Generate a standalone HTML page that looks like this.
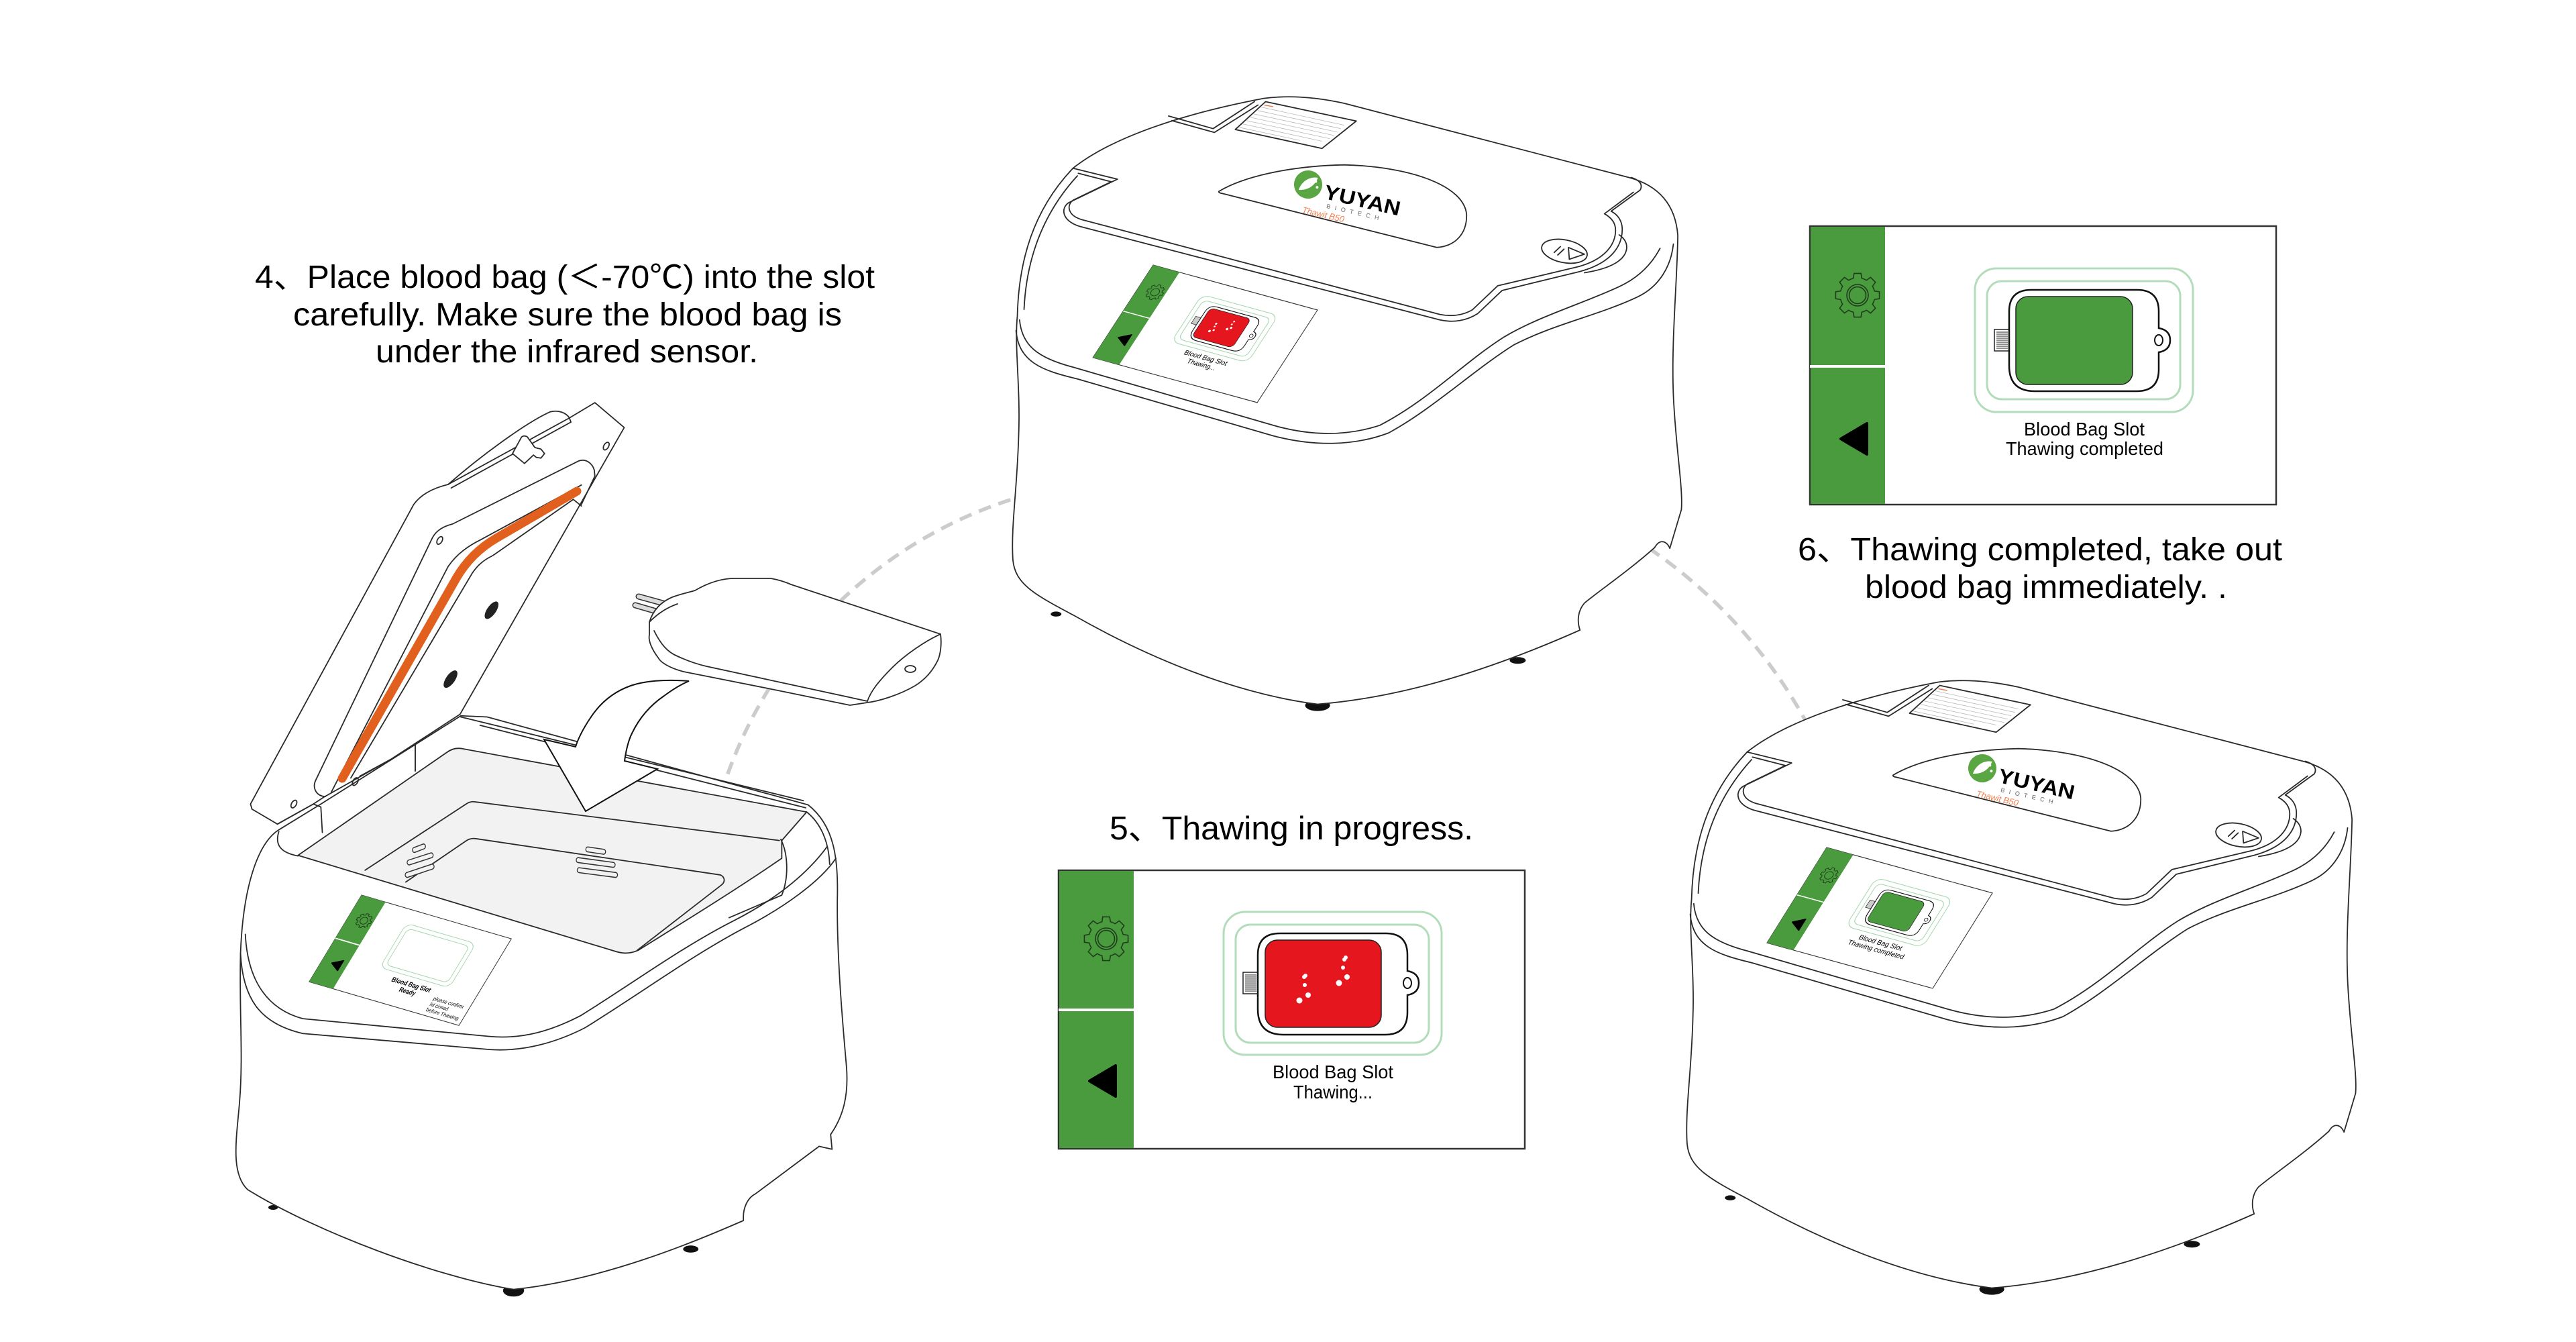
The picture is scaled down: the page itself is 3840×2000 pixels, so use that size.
<!DOCTYPE html>
<html><head><meta charset="utf-8"><style>
html,body{margin:0;padding:0;background:#fff;width:3840px;height:2000px;overflow:hidden}
svg{display:block}
.ln{fill:none;stroke:#2a2a2a;stroke-width:1.8px;vector-effect:non-scaling-stroke;stroke-linejoin:round;stroke-linecap:round}
.wf{fill:#fff;stroke:#2a2a2a;stroke-width:1.8px;vector-effect:non-scaling-stroke;stroke-linejoin:round}
.lg{fill:none;stroke:#b8b8b8;stroke-width:0.8px;vector-effect:non-scaling-stroke}
.t{font-family:"Liberation Sans","Noto Sans CJK SC",sans-serif;fill:#000}
.dash{fill:none;stroke:#cccccc;stroke-width:5.5;stroke-dasharray:19 12}
</style></head><body>
<svg xmlns="http://www.w3.org/2000/svg" width="3840" height="2000" viewBox="0 0 3840 2000">

<!-- dashed connector arcs -->
<path class="dash" d="M1075,1183 A666 666 0 0 1 1551,732"/>
<path class="dash" d="M2432,800 A748 748 0 0 1 2708,1106"/>

<!-- ============ CENTER DEVICE ============ -->
<g transform="translate(1500,100) scale(0.663,0.628)">
  <ellipse cx="700" cy="1515" rx="28" ry="13" fill="#111"/>
  <ellipse cx="1150" cy="1408" rx="18" ry="8" fill="#111"/>
  <ellipse cx="112" cy="1298" rx="12" ry="6" fill="#111"/>
  <path class="wf" d="M25,590 C28,460 60,340 150,240 C240,165 400,110 580,74 C640,66 700,72 760,86 L1400,262 C1470,282 1505,330 1510,400 C1508,520 1495,650 1500,780 C1505,900 1522,1000 1518,1050 L1492,1142 C1485,1125 1470,1118 1458,1140 C1400,1195 1330,1245 1300,1272 C1285,1290 1283,1315 1290,1336 C1100,1425 900,1495 700,1512 C500,1485 300,1390 150,1300 C60,1250 20,1225 15,1170 C10,1090 25,1000 28,870 C32,760 18,660 25,590 Z"/>
  <path class="ln" d="M40,575 C45,460 80,350 160,258"/>
  <path class="ln" d="M30,600 C35,660 70,690 150,712 L600,850 C680,874 760,878 840,850 C950,790 1030,700 1120,640 C1200,590 1300,560 1380,520 C1420,500 1450,470 1470,430"/>
  <path class="ln" d="M22,625 C28,700 80,720 160,740 L600,875 C690,900 780,900 860,868 C960,810 1050,720 1140,660 C1230,610 1330,590 1420,545 C1470,520 1495,470 1500,420"/>
  <path class="ln" d="M150,240 L250,266 L140,322 C122,335 125,365 165,378 L975,600 C1005,607 1035,602 1060,585 L1115,530 L1290,485 C1360,465 1385,425 1385,385 C1385,365 1375,350 1360,342 L1425,292 C1432,280 1425,268 1405,262"/>
  <path class="ln" d="M162,252 L236,272 L150,316 C135,328 138,352 170,362 L975,587 C1000,592 1025,590 1048,576 L1105,519 L1285,474 C1345,457 1370,422 1370,387 C1370,372 1362,358 1345,348 L1410,297"/>
  <path class="ln" d="M1300,488 C1360,478 1392,458 1395,430 C1396,415 1388,405 1378,398"/>
  <path class="ln" d="M365,116 L465,146 L558,82"/>
  <path class="ln" d="M372,127 L468,155 L566,90"/>
  <path class="wf" d="M515,148 L583,82 L787,128 L710,193 Z"/>
  <path class="lg" d="M573,95 L760,138 M565,103 L752,146 M556,111 L744,154 M548,119 L736,162 M540,127 L728,170 M532,135 L710,176 M524,143 L660,174"/>
  <path d="M580,90 L600,94" stroke="#f08050" stroke-width="1.5" vector-effect="non-scaling-stroke"/>
  <path class="ln" d="M478,295 C530,262 630,235 760,232 C910,236 1030,282 1035,350 C1036,395 1010,425 968,428 L486,300 C480,299 477,297 478,295 Z"/>
  <ellipse class="ln" cx="1255" cy="437" rx="52" ry="27" transform="rotate(12 1255 437)"/>
  <path class="ln" d="M1232,440 L1246,426 M1240,446 L1254,432"/>
  <path class="ln" d="M1264,428 L1300,444 L1266,456 Z"/>
</g>
<!-- center device screen -->
<g transform="matrix(0.35,0.0957,-0.215,0.330,1719,395)">
  <rect x="0" y="0" width="700" height="418" fill="#fff" stroke="#333" stroke-width="3"/>
  <rect x="0" y="0" width="112" height="418" fill="#4A9B3E"/>
  <line x1="0" y1="208" x2="112" y2="208" stroke="#fff" stroke-width="4"/>
  <g transform="translate(71,102)" fill="none" stroke="#1f3d1c" stroke-width="2.5"><path d="M25.23,-6.29 L32.59,-5.16 L32.59,5.16 L25.23,6.29 A26 26 0 0 1 22.29,13.39 L26.70,19.40 L19.40,26.70 L13.39,22.29 A26 26 0 0 1 6.29,25.23 L5.16,32.59 L-5.16,32.59 L-6.29,25.23 A26 26 0 0 1 -13.39,22.29 L-19.40,26.70 L-26.70,19.40 L-22.29,13.39 A26 26 0 0 1 -25.23,6.29 L-32.59,5.16 L-32.59,-5.16 L-25.23,-6.29 A26 26 0 0 1 -22.29,-13.39 L-26.70,-19.40 L-19.40,-26.70 L-13.39,-22.29 A26 26 0 0 1 -6.29,-25.23 L-5.16,-32.59 L5.16,-32.59 L6.29,-25.23 A26 26 0 0 1 13.39,-22.29 L19.40,-26.70 L26.70,-19.40 L22.29,-13.39 A26 26 0 0 1 25.23,-6.29 Z"/><circle r="16"/></g>
  <path d="M45,314 L86,290 L86,338 Z" fill="#000" stroke="#000" stroke-width="5" stroke-linejoin="round"/>
  <rect x="246" y="62" width="325" height="213" rx="32" fill="none" stroke="#a9d8b2" stroke-width="3"/>
  <rect x="264" y="81" width="288" height="176" rx="22" fill="none" stroke="#a9d8b2" stroke-width="3"/>
  <rect x="275" y="152" width="22" height="32" fill="#ccc" stroke="#222" stroke-width="2"/>
  <path d="M330,94 L488,94 Q520,94 520,126 L520,150 Q537,153 537,168 Q537,183 520,186 L520,212 Q520,245 487,245 L335,245 Q297,245 297,207 L297,126 Q297,94 330,94 Z" fill="#fff" stroke="#111" stroke-width="3"/>
  <circle cx="521" cy="168" r="7" fill="#fff" stroke="#111" stroke-width="2"/>
  <rect x="308" y="104" width="173" height="130" rx="18" fill="#E5161E" stroke="#222" stroke-width="2"/>
  <g fill="#fff"><circle cx="366" cy="159" r="4"/><circle cx="367" cy="171" r="3.5"/><circle cx="372" cy="186" r="4"/><circle cx="359" cy="194" r="5"/><circle cx="426" cy="132" r="3.5"/><circle cx="424" cy="145" r="3.5"/><circle cx="430" cy="159" r="4.5"/><circle cx="418" cy="168" r="5"/></g>
  <text class="t" x="319" y="310" font-size="28" textLength="180" lengthAdjust="spacingAndGlyphs">Blood Bag Slot</text>
  <text class="t" x="350" y="340" font-size="28" textLength="118" lengthAdjust="spacingAndGlyphs">Thawing...</text>
</g>
<!-- center logo -->
<g transform="rotate(13 1950 275)">
  <circle cx="1950" cy="275" r="21" fill="#5aa642"/>
  <path d="M1938,286 C1940,270 1952,262 1962,262 C1960,276 1950,284 1938,286 Z" fill="#fff"/>
  <circle cx="1960" cy="268" r="2" fill="#fff"/><circle cx="1964" cy="276" r="2" fill="#fff"/>
  <text class="t" x="1976" y="290" font-size="30" font-weight="bold" textLength="116" lengthAdjust="spacingAndGlyphs">YUYAN</text>
  <text class="t" x="1984" y="303" font-size="9" textLength="80" lengthAdjust="spacing" style="fill:#666">B I O T E C H</text>
  <text class="t" x="1950" y="318" font-size="13" font-style="italic" textLength="64" lengthAdjust="spacingAndGlyphs" style="fill:#F08050">Thawit B50</text>
</g>

<!-- ============ RIGHT DEVICE ============ -->
<g transform="translate(1005,870)">
<g transform="translate(1500,100) scale(0.663,0.628)">
  <ellipse cx="700" cy="1515" rx="28" ry="13" fill="#111"/>
  <ellipse cx="1150" cy="1408" rx="18" ry="8" fill="#111"/>
  <ellipse cx="112" cy="1298" rx="12" ry="6" fill="#111"/>
  <path class="wf" d="M25,590 C28,460 60,340 150,240 C240,165 400,110 580,74 C640,66 700,72 760,86 L1400,262 C1470,282 1505,330 1510,400 C1508,520 1495,650 1500,780 C1505,900 1522,1000 1518,1050 L1492,1142 C1485,1125 1470,1118 1458,1140 C1400,1195 1330,1245 1300,1272 C1285,1290 1283,1315 1290,1336 C1100,1425 900,1495 700,1512 C500,1485 300,1390 150,1300 C60,1250 20,1225 15,1170 C10,1090 25,1000 28,870 C32,760 18,660 25,590 Z"/>
  <path class="ln" d="M40,575 C45,460 80,350 160,258"/>
  <path class="ln" d="M30,600 C35,660 70,690 150,712 L600,850 C680,874 760,878 840,850 C950,790 1030,700 1120,640 C1200,590 1300,560 1380,520 C1420,500 1450,470 1470,430"/>
  <path class="ln" d="M22,625 C28,700 80,720 160,740 L600,875 C690,900 780,900 860,868 C960,810 1050,720 1140,660 C1230,610 1330,590 1420,545 C1470,520 1495,470 1500,420"/>
  <path class="ln" d="M150,240 L250,266 L140,322 C122,335 125,365 165,378 L975,600 C1005,607 1035,602 1060,585 L1115,530 L1290,485 C1360,465 1385,425 1385,385 C1385,365 1375,350 1360,342 L1425,292 C1432,280 1425,268 1405,262"/>
  <path class="ln" d="M162,252 L236,272 L150,316 C135,328 138,352 170,362 L975,587 C1000,592 1025,590 1048,576 L1105,519 L1285,474 C1345,457 1370,422 1370,387 C1370,372 1362,358 1345,348 L1410,297"/>
  <path class="ln" d="M1300,488 C1360,478 1392,458 1395,430 C1396,415 1388,405 1378,398"/>
  <path class="ln" d="M365,116 L465,146 L558,82"/>
  <path class="ln" d="M372,127 L468,155 L566,90"/>
  <path class="wf" d="M515,148 L583,82 L787,128 L710,193 Z"/>
  <path class="lg" d="M573,95 L760,138 M565,103 L752,146 M556,111 L744,154 M548,119 L736,162 M540,127 L728,170 M532,135 L710,176 M524,143 L660,174"/>
  <path d="M580,90 L600,94" stroke="#f08050" stroke-width="1.5" vector-effect="non-scaling-stroke"/>
  <path class="ln" d="M478,295 C530,262 630,235 760,232 C910,236 1030,282 1035,350 C1036,395 1010,425 968,428 L486,300 C480,299 477,297 478,295 Z"/>
  <ellipse class="ln" cx="1255" cy="437" rx="52" ry="27" transform="rotate(12 1255 437)"/>
  <path class="ln" d="M1232,440 L1246,426 M1240,446 L1254,432"/>
  <path class="ln" d="M1264,428 L1300,444 L1266,456 Z"/>
</g>
<g transform="rotate(13 1950 275)">
  <circle cx="1950" cy="275" r="21" fill="#5aa642"/>
  <path d="M1938,286 C1940,270 1952,262 1962,262 C1960,276 1950,284 1938,286 Z" fill="#fff"/>
  <circle cx="1960" cy="268" r="2" fill="#fff"/><circle cx="1964" cy="276" r="2" fill="#fff"/>
  <text class="t" x="1976" y="290" font-size="30" font-weight="bold" textLength="116" lengthAdjust="spacingAndGlyphs">YUYAN</text>
  <text class="t" x="1984" y="303" font-size="9" textLength="80" lengthAdjust="spacing" style="fill:#666">B I O T E C H</text>
  <text class="t" x="1950" y="318" font-size="13" font-style="italic" textLength="64" lengthAdjust="spacingAndGlyphs" style="fill:#F08050">Thawit B50</text>
</g>
</g>
<!-- right device screen -->
<g transform="matrix(0.353,0.097,-0.213,0.340,2723,1263)">
  <rect x="0" y="0" width="700" height="418" fill="#fff" stroke="#333" stroke-width="3"/>
  <rect x="0" y="0" width="112" height="418" fill="#4A9B3E"/>
  <line x1="0" y1="208" x2="112" y2="208" stroke="#fff" stroke-width="4"/>
  <g transform="translate(71,102)" fill="none" stroke="#1f3d1c" stroke-width="2.5"><path d="M25.23,-6.29 L32.59,-5.16 L32.59,5.16 L25.23,6.29 A26 26 0 0 1 22.29,13.39 L26.70,19.40 L19.40,26.70 L13.39,22.29 A26 26 0 0 1 6.29,25.23 L5.16,32.59 L-5.16,32.59 L-6.29,25.23 A26 26 0 0 1 -13.39,22.29 L-19.40,26.70 L-26.70,19.40 L-22.29,13.39 A26 26 0 0 1 -25.23,6.29 L-32.59,5.16 L-32.59,-5.16 L-25.23,-6.29 A26 26 0 0 1 -22.29,-13.39 L-26.70,-19.40 L-19.40,-26.70 L-13.39,-22.29 A26 26 0 0 1 -6.29,-25.23 L-5.16,-32.59 L5.16,-32.59 L6.29,-25.23 A26 26 0 0 1 13.39,-22.29 L19.40,-26.70 L26.70,-19.40 L22.29,-13.39 A26 26 0 0 1 25.23,-6.29 Z"/><circle r="16"/></g>
  <path d="M45,314 L86,290 L86,338 Z" fill="#000" stroke="#000" stroke-width="5" stroke-linejoin="round"/>
  <rect x="246" y="62" width="325" height="213" rx="32" fill="none" stroke="#a9d8b2" stroke-width="3"/>
  <rect x="264" y="81" width="288" height="176" rx="22" fill="none" stroke="#a9d8b2" stroke-width="3"/>
  <rect x="275" y="152" width="22" height="32" fill="#ccc" stroke="#222" stroke-width="2"/>
  <path d="M330,94 L488,94 Q520,94 520,126 L520,150 Q537,153 537,168 Q537,183 520,186 L520,212 Q520,245 487,245 L335,245 Q297,245 297,207 L297,126 Q297,94 330,94 Z" fill="#fff" stroke="#111" stroke-width="3"/>
  <circle cx="521" cy="168" r="7" fill="#fff" stroke="#111" stroke-width="2"/>
  <rect x="308" y="104" width="173" height="130" rx="18" fill="#4A9B3E" stroke="#222" stroke-width="2"/>
  <text class="t" x="319" y="310" font-size="28" textLength="180" lengthAdjust="spacingAndGlyphs">Blood Bag Slot</text>
  <text class="t" x="291" y="340" font-size="28" textLength="235" lengthAdjust="spacingAndGlyphs">Thawing completed</text>
</g>

<!-- ============ LEFT DEVICE ============ -->
<g transform="translate(330,580) scale(0.714,0.885)">
  <ellipse cx="610" cy="1518" rx="22" ry="10" fill="#111"/>
  <ellipse cx="980" cy="1448" rx="16" ry="6" fill="#111"/>
  <ellipse cx="108" cy="1378" rx="10" ry="4" fill="#111"/>
  <path class="wf" d="M120,742 C75,765 45,840 40,950 C37,1050 46,1120 38,1200 C32,1260 18,1320 55,1348 C200,1420 450,1495 610,1516 C800,1500 990,1435 1090,1400 C1088,1380 1098,1362 1115,1355 L1248,1275 L1275,1280 L1272,1255 C1298,1225 1310,1190 1305,1140 C1295,1050 1285,950 1286,860 C1288,790 1280,735 1225,700 L555,552 L500,550 L205,700 Z"/>
  <path class="ln" d="M500,552 L1215,693"/>
  <path class="ln" d="M540,566 L1220,705"/>
  <path d="M160,785 L470,612 C480,606 490,604 500,605 L1222,712 L1170,760 L1170,790 C1080,840 960,900 870,945 C850,952 835,950 820,946 L160,785 Z" fill="#f2f2f2" stroke="#2a2a2a" stroke-width="1.8" vector-effect="non-scaling-stroke" stroke-linejoin="round"/>
  <path class="ln" d="M300,810 L512,698 C518,695 524,694 530,695 L1165,760"/>
  <path class="ln" d="M385,830 L512,760 C518,757 525,756 532,757 L1042,818 C1052,822 1052,830 1044,835 L868,945"/>
  <path d="M403,776 L422,770 M392,797 L438,785 M388,818 L440,804 M765,775 L798,779 M745,793 L818,801 M747,810 L823,818" stroke="#333" stroke-width="10" stroke-linecap="round" fill="none"/>
  <path d="M403,776 L422,770 M392,797 L438,785 M388,818 L440,804 M765,775 L798,779 M745,793 L818,801 M747,810 L823,818" stroke="#f2f2f2" stroke-width="6.5" stroke-linecap="round" fill="none"/>
  <path class="ln" d="M1168,758 C1182,780 1186,820 1170,852 L1060,890"/>
  <path class="ln" d="M1222,712 C1250,730 1268,760 1270,800"/>
  <path class="ln" d="M120,745 C112,765 120,780 160,786"/>
  <path class="ln" d="M40,950 C45,1035 90,1070 170,1085 L560,1112 C630,1116 700,1100 760,1075 C880,1015 980,955 1090,908 C1170,875 1250,830 1283,790"/>
  <path class="ln" d="M50,918 C55,1000 100,1045 170,1060 L560,1090 C630,1095 690,1080 750,1055 C860,1000 960,940 1070,895 C1150,862 1220,820 1265,770"/>
</g>
<!-- lid -->
<g transform="translate(360,580) scale(0.4464)">
  <path class="wf" d="M30,1385 L575,385 C600,350 640,330 690,318 C800,222 950,112 1030,76 C1060,68 1085,80 1095,96 L1180,45 L1278,128 L730,1085 L500,1235 L275,1362 L240,1385 L120,1452 L35,1402 Z"/>
  <path class="ln" d="M690,318 L1095,96"/>
  <path class="ln" d="M700,330 L1100,110"/>
  <path class="ln" d="M1095,96 L1100,110"/>
  <path class="wf" d="M905,215 L935,160 C940,155 950,155 955,160 L980,195 L1000,200 L1012,215 L1000,230 L985,228 L975,220 L945,248 Z"/>
  <path class="ln" d="M280,1360 C248,1358 236,1330 248,1305 L638,495 C652,470 675,458 705,450 L1125,240 C1150,230 1172,248 1178,270 L1180,290 L1135,385"/>
  <path class="ln" d="M300,1345 L690,592 C720,548 760,522 800,502 L1135,320"/>
  <path class="ln" d="M365,1298 L770,615 C790,585 810,570 840,555 L1108,368 L1135,390"/>
  <path class="ln" d="M395,1292 L500,1235"/>
  <path class="ln" d="M120,1452 L240,1385 L265,1395 L270,1480"/>
  <path class="ln" d="M580,1185 L580,1275"/>
  <ellipse class="ln" cx="662" cy="505" rx="8" ry="14" transform="rotate(30 662 505)"/>
  <ellipse class="ln" cx="1218" cy="190" rx="8" ry="14" transform="rotate(30 1218 190)"/>
  <ellipse class="ln" cx="175" cy="1385" rx="8" ry="14" transform="rotate(30 175 1385)"/>
  <ellipse class="ln" cx="380" cy="1310" rx="8" ry="14" transform="rotate(30 380 1310)"/>
  <ellipse cx="835" cy="738" rx="34" ry="15" transform="rotate(-55 835 738)" fill="#222"/>
  <ellipse cx="698" cy="968" rx="34" ry="15" transform="rotate(-55 698 968)" fill="#222"/>
</g>
<!-- orange seal strip -->
<path d="M510,1160 L680,862 Q702,824 740,802 L860,732" fill="none" stroke="#E2601E" stroke-width="13" stroke-linecap="round" stroke-linejoin="round"/>
<path d="M619,1109 L619,1149" class="ln"/>

<!-- left device screen -->
<g transform="matrix(0.319,0.093,-0.187,0.309,539,1334)">
  <rect x="0" y="0" width="700" height="418" fill="#fff" stroke="#333" stroke-width="3"/>
  <rect x="0" y="0" width="112" height="418" fill="#4A9B3E"/>
  <line x1="0" y1="208" x2="112" y2="208" stroke="#fff" stroke-width="5"/>
  <g transform="translate(71,102)" fill="none" stroke="#1f3d1c" stroke-width="3"><path d="M25.23,-6.29 L32.59,-5.16 L32.59,5.16 L25.23,6.29 A26 26 0 0 1 22.29,13.39 L26.70,19.40 L19.40,26.70 L13.39,22.29 A26 26 0 0 1 6.29,25.23 L5.16,32.59 L-5.16,32.59 L-6.29,25.23 A26 26 0 0 1 -13.39,22.29 L-19.40,26.70 L-26.70,19.40 L-22.29,13.39 A26 26 0 0 1 -25.23,6.29 L-32.59,5.16 L-32.59,-5.16 L-25.23,-6.29 A26 26 0 0 1 -22.29,-13.39 L-26.70,-19.40 L-19.40,-26.70 L-13.39,-22.29 A26 26 0 0 1 -6.29,-25.23 L-5.16,-32.59 L5.16,-32.59 L6.29,-25.23 A26 26 0 0 1 13.39,-22.29 L19.40,-26.70 L26.70,-19.40 L22.29,-13.39 A26 26 0 0 1 25.23,-6.29 Z"/><circle r="16"/></g>
  <path d="M45,314 L86,290 L86,338 Z" fill="#000" stroke="#000" stroke-width="5" stroke-linejoin="round"/>
  <rect x="246" y="62" width="325" height="213" rx="32" fill="none" stroke="#a9d8b2" stroke-width="3"/>
  <rect x="264" y="81" width="288" height="176" rx="22" fill="none" stroke="#a9d8b2" stroke-width="3"/>
  <text class="t" x="323" y="318" font-size="30" font-weight="bold" textLength="180" lengthAdjust="spacingAndGlyphs">Blood Bag Slot</text>
  <text class="t" x="377" y="350" font-size="30" font-weight="bold" textLength="74" lengthAdjust="spacingAndGlyphs">Ready</text>
  <text class="t" x="534" y="345" font-size="24" textLength="140" lengthAdjust="spacingAndGlyphs">please confirm</text>
  <text class="t" x="534" y="372" font-size="24" textLength="84" lengthAdjust="spacingAndGlyphs">lid closed</text>
  <text class="t" x="532" y="399" font-size="24" textLength="150" lengthAdjust="spacingAndGlyphs">before Thawing</text>
</g>

<!-- curved arrow -->
<path d="M1027,1015 C990,1012 960,1015 940,1022 C912,1032 893,1050 880,1070 C870,1085 862,1100 858,1113 L811,1102 L873,1209 L980,1146 L931,1134 C933,1120 936,1105 942,1093 C952,1072 968,1052 990,1037 C1002,1028 1015,1020 1027,1015 Z" fill="#fff" stroke="#111" stroke-width="2" stroke-linejoin="miter"/>

<!-- blood bag -->
<path d="M952,889 L992,900 M947,902 L985,913" stroke="#333" stroke-width="9" stroke-linecap="round"/>
<path d="M952,889 L992,900 M947,902 L985,913" stroke="#dcdcdc" stroke-width="6" stroke-linecap="round"/>
<path class="wf" d="M968,927 C975,905 990,895 1002,890 C1015,885 1030,882 1036,880 C1060,866 1080,862 1095,862 L1149,862 C1160,864 1170,867 1179,871 L1402,945 C1404,960 1402,975 1398,984 C1390,1000 1380,1012 1364,1022 C1340,1036 1310,1045 1293,1047 L1267,1051 L1145,1026 L1019,1001 C1000,996 985,988 981,980 C972,968 966,955 968,946 Z"/>
<path class="ln" d="M975,940 C985,960 995,972 1010,978 C1025,985 1040,990 1053,993 L1293,1045"/>
<path class="ln" d="M1402,945 C1380,955 1350,975 1330,995 C1310,1015 1298,1030 1293,1045"/>
<path class="ln" d="M968,927 C980,915 995,905 1010,900"/>
<ellipse class="ln" cx="1357" cy="997" rx="8" ry="5"/>

<!-- ============ BIG SCREEN 5 ============ -->
<g transform="translate(1578,1297)">
  <rect x="0" y="0" width="695" height="415" fill="#fff" stroke="#333" stroke-width="2.5"/>
  <rect x="1" y="1" width="111" height="413" fill="#4A9B3E"/>
  <line x1="0" y1="208" x2="112" y2="208" stroke="#fff" stroke-width="4"/>
  <g transform="translate(71,102)" fill="none" stroke="#1f3d1c" stroke-width="1.6"><path d="M25.23,-6.29 L32.59,-5.16 L32.59,5.16 L25.23,6.29 A26 26 0 0 1 22.29,13.39 L26.70,19.40 L19.40,26.70 L13.39,22.29 A26 26 0 0 1 6.29,25.23 L5.16,32.59 L-5.16,32.59 L-6.29,25.23 A26 26 0 0 1 -13.39,22.29 L-19.40,26.70 L-26.70,19.40 L-22.29,13.39 A26 26 0 0 1 -25.23,6.29 L-32.59,5.16 L-32.59,-5.16 L-25.23,-6.29 A26 26 0 0 1 -22.29,-13.39 L-26.70,-19.40 L-19.40,-26.70 L-13.39,-22.29 A26 26 0 0 1 -6.29,-25.23 L-5.16,-32.59 L5.16,-32.59 L6.29,-25.23 A26 26 0 0 1 13.39,-22.29 L19.40,-26.70 L26.70,-19.40 L22.29,-13.39 A26 26 0 0 1 25.23,-6.29 Z"/><circle r="16"/><circle r="12.5"/></g>
  <path d="M46,314 L85,291 L85,337 Z" fill="#000" stroke="#000" stroke-width="4" stroke-linejoin="round"/>
  <rect x="246" y="62" width="325" height="213" rx="32" fill="none" stroke="#b3dcbb" stroke-width="3"/>
  <rect x="264" y="81" width="288" height="176" rx="22" fill="none" stroke="#b3dcbb" stroke-width="3"/>
  <rect x="275" y="152" width="22" height="32" fill="#fff" stroke="#222" stroke-width="1.5"/>
  <path d="M278,156h17M278,159h17M278,162h17M278,165h17M278,168h17M278,171h17M278,174h17M278,177h17M278,180h17" stroke="#222" stroke-width="1"/>
  <path d="M330,94 L488,94 Q520,94 520,126 L520,150 Q537,153 537,168 Q537,183 520,186 L520,212 Q520,245 487,245 L335,245 Q297,245 297,207 L297,126 Q297,94 330,94 Z" fill="#fff" stroke="#111" stroke-width="2.5"/>
  <ellipse cx="520" cy="168" rx="6" ry="8" fill="#fff" stroke="#111" stroke-width="2"/>
  <rect x="308" y="104" width="173" height="130" rx="18" fill="#E5161E" stroke="#222" stroke-width="1.5"/>
  <g fill="#fff"><circle cx="368" cy="157" r="3"/><circle cx="366" cy="159" r="3"/><circle cx="367" cy="171" r="3"/><circle cx="372" cy="186" r="4"/><circle cx="359" cy="194" r="4.5"/><circle cx="428" cy="130" r="3"/><circle cx="426" cy="133" r="3"/><circle cx="424" cy="145" r="3"/><circle cx="430" cy="159" r="4"/><circle cx="418" cy="168" r="4.5"/></g>
  <text class="t" x="319" y="310" font-size="28" textLength="180" lengthAdjust="spacingAndGlyphs">Blood Bag Slot</text>
  <text class="t" x="350" y="340" font-size="28" textLength="118" lengthAdjust="spacingAndGlyphs">Thawing...</text>
</g>

<!-- ============ BIG SCREEN 6 ============ -->
<g transform="translate(2698,337)">
  <rect x="0" y="0" width="695" height="415" fill="#fff" stroke="#333" stroke-width="2.5"/>
  <rect x="1" y="1" width="111" height="413" fill="#4A9B3E"/>
  <line x1="0" y1="209" x2="112" y2="209" stroke="#fff" stroke-width="4"/>
  <g transform="translate(71,103)" fill="none" stroke="#1f3d1c" stroke-width="1.6"><path d="M25.23,-6.29 L32.59,-5.16 L32.59,5.16 L25.23,6.29 A26 26 0 0 1 22.29,13.39 L26.70,19.40 L19.40,26.70 L13.39,22.29 A26 26 0 0 1 6.29,25.23 L5.16,32.59 L-5.16,32.59 L-6.29,25.23 A26 26 0 0 1 -13.39,22.29 L-19.40,26.70 L-26.70,19.40 L-22.29,13.39 A26 26 0 0 1 -25.23,6.29 L-32.59,5.16 L-32.59,-5.16 L-25.23,-6.29 A26 26 0 0 1 -22.29,-13.39 L-26.70,-19.40 L-19.40,-26.70 L-13.39,-22.29 A26 26 0 0 1 -6.29,-25.23 L-5.16,-32.59 L5.16,-32.59 L6.29,-25.23 A26 26 0 0 1 13.39,-22.29 L19.40,-26.70 L26.70,-19.40 L22.29,-13.39 A26 26 0 0 1 25.23,-6.29 Z"/><circle r="16"/><circle r="12.5"/></g>
  <path d="M46,317 L85,294 L85,340 Z" fill="#000" stroke="#000" stroke-width="4" stroke-linejoin="round"/>
  <rect x="246" y="63" width="325" height="214" rx="32" fill="none" stroke="#b3dcbb" stroke-width="3"/>
  <rect x="264" y="82" width="288" height="176" rx="22" fill="none" stroke="#b3dcbb" stroke-width="3"/>
  <rect x="275" y="154" width="22" height="32" fill="#fff" stroke="#222" stroke-width="1.5"/>
  <path d="M278,158h17M278,161h17M278,164h17M278,167h17M278,170h17M278,173h17M278,176h17M278,179h17M278,182h17" stroke="#222" stroke-width="1"/>
  <path d="M330,95 L488,95 Q520,95 520,127 L520,152 Q537,155 537,170 Q537,185 520,188 L520,214 Q520,246 487,246 L335,246 Q297,246 297,208 L297,127 Q297,95 330,95 Z" fill="#fff" stroke="#111" stroke-width="2.5"/>
  <ellipse cx="520" cy="170" rx="6" ry="8" fill="#fff" stroke="#111" stroke-width="2"/>
  <rect x="307" y="105" width="174" height="131" rx="18" fill="#4A9B3E" stroke="#222" stroke-width="1.5"/>
  <text class="t" x="319" y="312" font-size="28" textLength="180" lengthAdjust="spacingAndGlyphs">Blood Bag Slot</text>
  <text class="t" x="292" y="341" font-size="28" textLength="235" lengthAdjust="spacingAndGlyphs">Thawing completed</text>
</g>

<!-- ============ TITLES ============ -->
<text class="t" x="380" y="429" font-size="48" textLength="924" lengthAdjust="spacingAndGlyphs">4、Place blood bag (＜-70℃) into the slot</text>
<text class="t" x="437" y="485" font-size="48" textLength="818" lengthAdjust="spacingAndGlyphs">carefully. Make sure the blood bag is</text>
<text class="t" x="560" y="540" font-size="48" textLength="570" lengthAdjust="spacingAndGlyphs">under the infrared sensor.</text>

<text class="t" x="1654" y="1251" font-size="49" textLength="542" lengthAdjust="spacingAndGlyphs">5、Thawing in progress.</text>

<text class="t" x="2680" y="835" font-size="48" textLength="722" lengthAdjust="spacingAndGlyphs">6、Thawing completed, take out</text>
<text class="t" x="2780" y="891" font-size="48" textLength="540" lengthAdjust="spacingAndGlyphs">blood bag immediately. .</text>

</svg>
</body></html>
